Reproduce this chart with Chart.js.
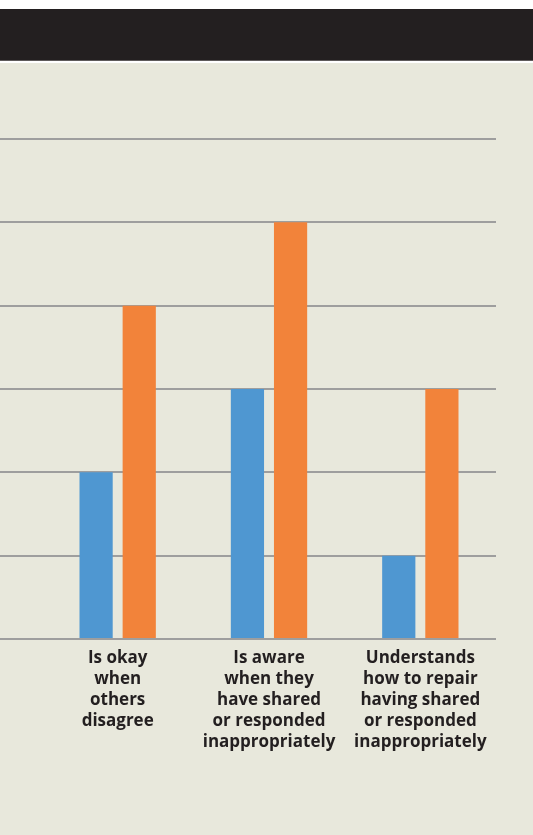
<!DOCTYPE html>
<html>
<head>
<meta charset="utf-8">
<script src="https://cdn.jsdelivr.net/npm/chart.js@4.4.0/dist/chart.umd.min.js"></script>
<style>
  body { margin: 0; background: #fff; width: 533px; height: 835px; overflow: hidden; }
  .topbar { margin-top: 9px; height: 51px; background: #231f20; border-bottom: 1px solid #5e5a5b; }
  .panel { margin-top: 2px; height: 772px; background: #e8e8dc; position: relative; }
  #skillsChart { display: block; }
</style>
</head>
<body>
<div class="topbar"></div>
<div class="panel">
  <canvas id="skillsChart" width="533" height="772"></canvas>
</div>
<script>
const categories = [
  ["Is okay", "when", "others", "disagree"],
  ["Is aware", "when they", "have shared", "or responded", "inappropriately"],
  ["Understands", "how to repair", "having shared", "or responded", "inappropriately"],
];
const blueValues = [2, 3, 1];
const orangeValues = [4, 5, 3];
const yTicks = [0, 1, 2, 3, 4, 5, 6];

const ctx = document.getElementById("skillsChart").getContext("2d");
new Chart(ctx, {
  type: "bar",
  data: {
    labels: categories,
    datasets: [
      {
        label: "Blue",
        data: blueValues,
        backgroundColor: "#4f97d1",
        barPercentage: 0.77,
        categoryPercentage: 0.57,
      },
      {
        label: "Orange",
        data: orangeValues,
        backgroundColor: "#f2833a",
        barPercentage: 0.77,
        categoryPercentage: 0.57,
      },
    ],
  },
  options: {
    responsive: false,
    animation: false,
    layout: { padding: { top: 76, right: 37, left: 0, bottom: 73 } },
    plugins: {
      legend: { display: false },
      tooltip: { enabled: false },
    },
    scales: {
      y: {
        min: yTicks[0],
        max: yTicks[yTicks.length - 1],
        afterBuildTicks: (axis) => { axis.ticks = yTicks.map((v) => ({ value: v })); },
        ticks: { display: false },
        grid: { color: "#9e9e9e", lineWidth: 2, tickLength: 42 },
        border: { display: false },
      },
      x: {
        grid: { display: false, drawTicks: false },
        border: { display: false },
        ticks: {
          color: "#231f20",
          padding: 9,
          maxRotation: 0,
          autoSkip: false,
          font: { family: "'Open Sans'", size: 17, weight: "bold", lineHeight: "21px" },
        },
      },
    },
  },
});
</script>
</body>
</html>
